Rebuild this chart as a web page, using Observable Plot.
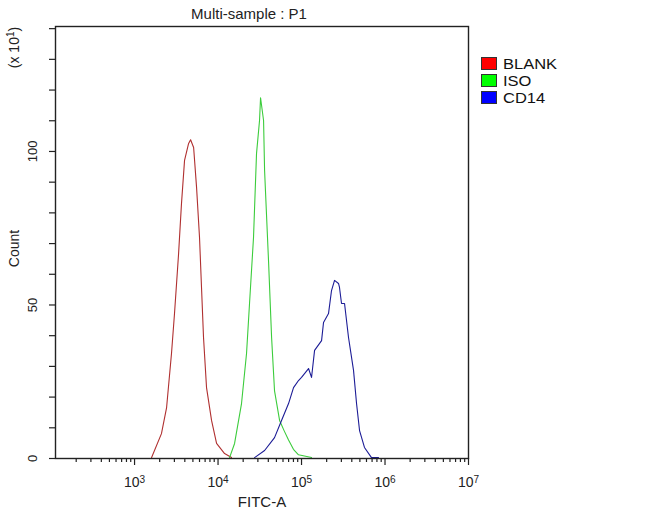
<!DOCTYPE html>
<html><head><meta charset="utf-8">
<script src="https://cdn.jsdelivr.net/npm/d3@7"></script>
<script src="https://cdn.jsdelivr.net/npm/@observablehq/plot@0.6"></script>
<style>
body{margin:0;background:#fff;font-family:"Liberation Sans",Arial,sans-serif;}
#wrap{position:relative;width:650px;height:510px;overflow:hidden;}
#legend{position:absolute;left:481px;top:55px;}
.item{display:flex;align-items:center;height:17px;font-size:15px;line-height:17px;color:#111;white-space:nowrap;}
.item span{display:inline-block;transform:scaleX(1.1);transform-origin:left center;}
.sw{box-sizing:border-box;width:16px;height:13px;border:1px solid #333;margin-right:6px;}
</style></head><body><div id="wrap"><div id="legend"></div></div>
<script>
const seriesNames = ["BLANK", "ISO", "CD14"];
const lineColors = ["#b03030", "#3ccc3c", "#1c1c96"];
const swatchColors = ["#ff0000", "#00ff00", "#0000ff"];

const blankFitc = [1600, 2100, 2420, 2770, 3010, 3370, 3650, 3970, 4440, 4690, 5100, 5530, 6000, 6340, 6700, 7280, 8360, 9600, 11970, 14500];
const blankCount = [0.3, 8.1, 16.6, 34.2, 47.2, 66.8, 83.1, 97.1, 102.6, 103.8, 101.3, 88.3, 72.0, 55.7, 39.4, 23.1, 12.4, 4.9, 1.6, 0.3];

const isoFitc = [13740, 15780, 19110, 21940, 23830, 26600, 28900, 31400, 32300, 35100, 36100, 40300, 43800, 47500, 54600, 62000, 69900, 80000, 92000, 131800];
const isoCount = [0.3, 4.9, 17.9, 34.2, 50.5, 72.0, 99.3, 110.1, 117.5, 110.1, 93.8, 64.0, 39.4, 22.0, 12.4, 9.0, 6.0, 3.0, 1.2, 0.3];

const cd14Fitc = [27400, 36100, 47500, 57600, 69900, 80200, 92000, 100000, 121300, 131800, 143300, 173800, 183400, 210500, 228700, 248500, 277300, 285000, 301300, 327500, 365500, 419600, 456000, 495500, 567500, 688800, 835600];
const cd14Count = [0.3, 2.6, 6.8, 12.4, 17.9, 23.1, 25.4, 26.4, 29.3, 26.4, 35.2, 38.4, 44.3, 47.2, 54.7, 58.0, 57.0, 55.7, 50.5, 50.5, 39.4, 28.7, 17.9, 9.1, 3.6, 0.3, 0.3];

const yTicks = [0, 10, 20, 30, 40, 50, 60, 70, 80, 90, 100, 110, 120, 130, 140];
const yLabels = [0, 50, 100];
const xMajor = [1e3, 1e4, 1e5, 1e6, 1e7];
const xMinorMultipliers = [2, 3, 4, 5, 6, 7, 8, 9];
const xMinorDecades = [1e2, 1e3, 1e4, 1e5, 1e6];
const xMinor = xMinorDecades.flatMap(d => xMinorMultipliers.map(m => m * d));

const rows = [];
[[blankFitc, blankCount], [isoFitc, isoCount], [cd14Fitc, cd14Count]].forEach(([xs, ys], i) => {
  xs.forEach((x, j) => rows.push({series: seriesNames[i], fitc: x, count: ys[j]}));
});

const sup = {"0":"⁰","1":"¹","2":"²","3":"³","4":"⁴","5":"⁵","6":"⁶","7":"⁷","8":"⁸","9":"⁹"};
const unsup = Object.fromEntries(Object.entries(sup).map(([k, v]) => [v, k]));

const chart = Plot.plot({
  width: 650, height: 510,
  marginLeft: 55, marginRight: 182, marginTop: 26, marginBottom: 52,
  style: {fontFamily: "Liberation Sans, Arial, sans-serif", fontSize: "14px", color: "#222", background: "white"},
  x: {type: "log", domain: [113, 1e7], label: null},
  y: {domain: [0, 140.7], label: null},
  color: {domain: seriesNames, range: lineColors},
  marks: [
    Plot.line(rows, {x: "fitc", y: "count", z: "series", stroke: "series", strokeWidth: 1.1}),
    Plot.axisX({ticks: xMinor, tickSize: 4, tickFormat: () => "", strokeWidth: 1.2, label: null}),
    Plot.axisX({ticks: xMajor, tickSize: 7, tickPadding: 12, strokeWidth: 1.2, fontSize: 14, label: null,
      tickFormat: d => "10" + String(Math.round(Math.log10(d))).split("").map(c => sup[c]).join("")}),
    Plot.axisY({ticks: yTicks, tickSize: 6, tickFormat: () => "", strokeWidth: 1.2, label: null}),
    Plot.text(yLabels, {y: d => d, text: d => String(d), frameAnchor: "left", dx: -23, rotate: -90,
      textAnchor: "middle", lineAnchor: "middle", fontSize: 13}),
    Plot.frame({stroke: "#222", strokeWidth: 1.4}),
    Plot.text(["Multi-sample : P1"], {text: d => d, frameAnchor: "top", dx: -13, dy: -8,
      textAnchor: "middle", lineAnchor: "bottom", fontSize: 15}),
    Plot.text(["FITC-A"], {text: d => d, frameAnchor: "bottom", dy: 48,
      textAnchor: "middle", lineAnchor: "bottom", fontSize: 15}),
    Plot.text(["Count"], {text: d => d, frameAnchor: "left", dx: -41, dy: 6, rotate: -90,
      textAnchor: "middle", lineAnchor: "middle", fontSize: 14}),
    Plot.text(["(x 10¹)"], {text: d => d, frameAnchor: "top-left", dx: -41, dy: 21, rotate: -90,
      textAnchor: "middle", lineAnchor: "middle", fontSize: 14})
  ]
});

// turn unicode superscripts into tspans
d3.select(chart).selectAll("text").each(function() {
  if (this.querySelector("tspan")) return;
  const t = this.textContent;
  const m = t.match(/^(.*?10)([⁰¹²³⁴⁵⁶⁷⁸⁹]+)(.*)$/);
  if (!m) return;
  const el = d3.select(this);
  el.text(null);
  el.append("tspan").text(m[1]);
  el.append("tspan").attr("dy", "-0.45em").attr("font-size", "0.72em")
    .text(m[2].split("").map(c => unsup[c]).join(""));
  if (m[3]) el.append("tspan").attr("dy", "0.32em").text(m[3]);
});

document.getElementById("wrap").prepend(chart);

const legend = d3.select("#legend");
seriesNames.forEach((name, i) => {
  const item = legend.append("div").attr("class", "item");
  item.append("div").attr("class", "sw").style("background", swatchColors[i]);
  item.append("span").text(name);
});
</script>
</body></html>
